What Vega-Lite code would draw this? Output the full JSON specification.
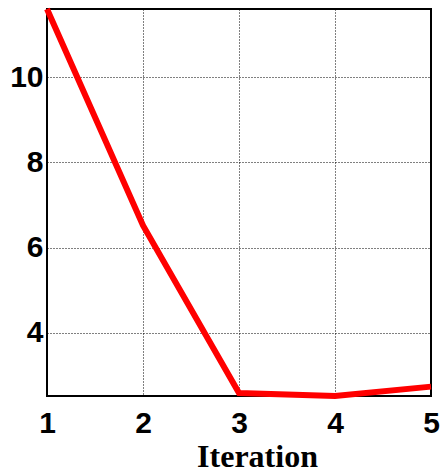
{
  "$schema": "https://vega.github.io/schema/vega-lite/v6.json",
  "width": 384,
  "height": 387,
  "autosize": {"type": "none"},
  "padding": {"left": 47, "top": 9, "right": 14, "bottom": 78},
  "background": "white",
  "config": {
    "view": {"stroke": "black", "strokeWidth": 2},
    "axis": {
      "domain": false,
      "ticks": false,
      "grid": true,
      "gridColor": "black",
      "gridDash": [1, 2],
      "gridWidth": 1,
      "gridOpacity": 1,
      "labelFont": "Liberation Sans",
      "labelFontWeight": "bold",
      "labelFontSize": 30,
      "labelColor": "black",
      "titleFont": "Liberation Serif",
      "titleFontWeight": "bold",
      "titleFontSize": 32,
      "titleColor": "black"
    }
  },
  "data": {
    "values": [
      {"iteration": 1, "value": 11.6},
      {"iteration": 2, "value": 6.52},
      {"iteration": 3, "value": 2.59},
      {"iteration": 4, "value": 2.52},
      {"iteration": 5, "value": 2.74}
    ]
  },
  "mark": {"type": "line", "color": "#ff0000", "strokeWidth": 6, "clip": false},
  "encoding": {
    "x": {
      "field": "iteration",
      "type": "quantitative",
      "scale": {"domain": [1, 5], "nice": false, "zero": false},
      "axis": {"values": [1, 2, 3, 4, 5], "title": "Iteration", "labelPadding": 12, "labelFlush": false, "titleX": 210, "titleY": 70, "titleAlign": "center", "titleBaseline": "alphabetic", "titleAnchor": null}
    },
    "y": {
      "field": "value",
      "type": "quantitative",
      "scale": {"domain": [2.52, 11.6], "nice": false, "zero": false},
      "axis": {"values": [4, 6, 8, 10], "title": null, "labelPadding": 4, "labelFlush": false}
    }
  }
}
